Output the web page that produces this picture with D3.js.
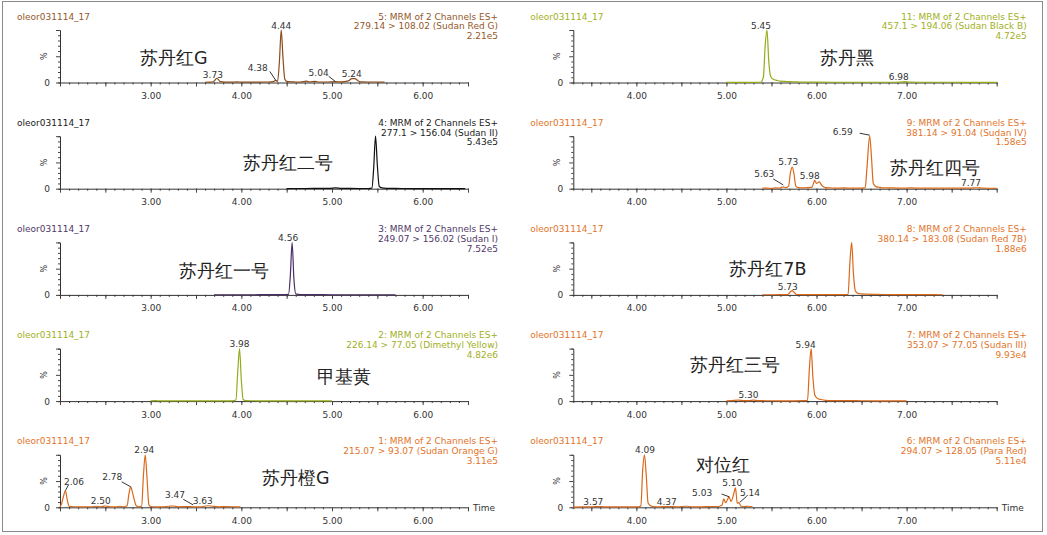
<!DOCTYPE html>
<html>
<head>
<meta charset="utf-8">
<script src="https://cdn.jsdelivr.net/npm/d3@7"></script>
<style>
body { margin: 0; background: #fff; }
svg { display: block; }
text { font-family: "DejaVu Sans", Verdana, sans-serif; }
</style>
</head>
<body>
<svg id="chart"></svg>
<script>
// Chromatogram traces: [time (min), intensity %]
var sudanRedG = [[3.60,0.5],[3.65,0.6],[3.69,1.5],[3.73,8],[3.77,1.5],[3.82,0.8],[3.90,0.7],[3.95,1.2],[4.00,0.8],[4.10,0.7],[4.20,0.9],[4.30,1.0],[4.35,1.5],[4.38,4],[4.40,2],[4.42,40],[4.44,100],[4.46,45],[4.48,6],[4.50,2],[4.55,1.2],[4.60,1.0],[4.65,0.8],[4.72,2.5],[4.75,1],[4.82,2],[4.85,1],[4.95,1],[5.04,1.5],[5.10,1.2],[5.18,3],[5.22,7.5],[5.25,7.5],[5.29,3],[5.33,1.2],[5.40,1],[5.50,1],[5.58,0.8]];
var sudanBlackB = [[5.00,0.3],[5.10,0.3],[5.20,0.4],[5.30,0.4],[5.38,0.5],[5.41,10],[5.43,70],[5.45,100],[5.47,40],[5.49,12],[5.52,6],[5.56,4],[5.60,2.5],[5.65,2],[5.70,1.5],[5.80,1],[5.90,0.8],[6.00,0.6],[6.20,0.5],[6.40,0.5],[6.60,0.5],[6.80,0.5],[6.93,0.6],[6.98,1.5],[7.03,0.6],[7.20,0.5],[7.40,0.5],[7.60,0.4],[7.80,0.4],[8.00,0.3]];
var sudanII = [[4.50,0.3],[4.60,0.4],[4.70,0.4],[4.80,0.5],[4.90,0.6],[4.98,0.8],[5.04,1.5],[5.10,0.7],[5.20,0.5],[5.30,0.4],[5.40,0.4],[5.44,1],[5.46,40],[5.48,100],[5.50,45],[5.52,5],[5.55,1.5],[5.60,0.8],[5.70,0.5],[5.80,0.4],[6.00,0.3],[6.20,0.3],[6.47,0.3]];
var sudanIV = [[5.40,1],[5.45,1],[5.50,0.8],[5.55,1.5],[5.58,1],[5.63,3.5],[5.66,2],[5.69,5],[5.71,30],[5.73,41],[5.75,28],[5.77,5],[5.80,2],[5.85,1.5],[5.90,2],[5.95,3],[5.98,16],[6.00,10],[6.03,13],[6.06,6],[6.10,2],[6.15,1.5],[6.20,1],[6.30,1.5],[6.40,1],[6.50,1.2],[6.54,2],[6.56,40],[6.59,100],[6.61,60],[6.63,10],[6.66,4],[6.70,2.5],[6.75,1.5],[6.85,1.5],[6.95,1],[7.05,1.5],[7.15,1],[7.30,1],[7.45,1.2],[7.60,1],[7.70,1],[7.77,1.8],[7.85,1],[8.00,0.8]];
var sudanI = [[3.70,0.3],[3.90,0.3],[4.10,0.3],[4.30,0.4],[4.45,0.4],[4.52,1],[4.54,35],[4.56,100],[4.58,30],[4.60,2],[4.65,0.5],[4.80,0.4],[5.00,0.3],[5.20,0.3],[5.40,0.3],[5.70,0.3]];
var sudanRed7B = [[5.40,0.3],[5.50,0.3],[5.60,0.4],[5.68,0.6],[5.71,6],[5.73,8],[5.75,5],[5.78,0.8],[5.85,0.5],[6.00,0.4],[6.15,0.4],[6.30,0.5],[6.35,0.8],[6.37,60],[6.39,100],[6.41,40],[6.43,8],[6.46,3],[6.50,2],[6.55,1.5],[6.65,1],[6.80,0.7],[7.00,0.5],[7.20,0.4],[7.40,0.3]];
var dimethylYellow = [[3.00,0.3],[3.05,1],[3.10,0.4],[3.30,0.3],[3.50,0.6],[3.60,0.3],[3.80,0.3],[3.90,0.4],[3.94,2],[3.96,55],[3.98,100],[4.00,40],[4.02,3],[4.05,0.8],[4.20,0.6],[4.40,0.5],[4.60,0.4],[4.80,0.4],[5.00,0.3]];
var sudanIII = [[5.00,0.5],[5.05,0.8],[5.13,1.8],[5.20,1],[5.25,1],[5.30,2],[5.35,1],[5.45,0.7],[5.60,0.6],[5.75,0.6],[5.85,0.8],[5.90,1.5],[5.92,60],[5.94,100],[5.96,45],[5.98,12],[6.01,5],[6.05,3],[6.10,1.5],[6.20,1],[6.35,0.8],[6.50,0.7],[6.70,0.6],[6.85,0.6],[7.00,0.5]];
var sudanOrangeG = [[2.00,0.5],[2.02,8],[2.04,22],[2.06,32],[2.08,14],[2.10,2],[2.15,1],[2.25,0.8],[2.35,1],[2.40,2],[2.45,1],[2.50,2.5],[2.55,1],[2.62,1],[2.66,2],[2.70,1],[2.74,3],[2.76,25],[2.78,39],[2.80,28],[2.82,14],[2.84,3],[2.87,1],[2.90,2],[2.92,60],[2.94,100],[2.96,55],[2.98,5],[3.00,1.5],[3.05,1],[3.12,1],[3.20,2],[3.25,2.5],[3.30,1],[3.40,1.5],[3.47,1],[3.55,1],[3.63,3],[3.68,2],[3.75,1],[3.85,1.2],[3.92,1],[3.99,0.8]];
var paraRed = [[3.30,0.5],[3.40,1],[3.50,0.8],[3.57,1.5],[3.65,0.8],[3.75,1],[3.85,0.7],[3.95,1],[4.02,0.8],[4.05,3],[4.07,70],[4.09,100],[4.11,60],[4.13,8],[4.15,4],[4.18,1.5],[4.25,1],[4.37,1.5],[4.45,1],[4.56,2],[4.62,1],[4.72,1],[4.82,1.5],[4.90,1.5],[4.95,4],[4.97,16],[4.99,9],[5.01,14],[5.03,20],[5.05,11],[5.08,25],[5.10,37],[5.12,8],[5.14,9],[5.16,2],[5.20,1.5],[5.24,2],[5.29,1]];

// Peak retention-time labels
var peaksRedG = [3.73, 4.38, 4.44, 5.04, 5.24];
var peaksBlackB = [5.45, 6.98];
var peaksII = [];
var peaksIV = [5.63, 5.73, 5.98, 6.59, 7.77];
var peaksI = [4.56];
var peaks7B = [5.73];
var peaksDimethyl = [3.98];
var peaksIII = [5.30, 5.94];
var peaksOrangeG = [2.06, 2.50, 2.78, 2.94, 3.47, 3.63];
var peaksParaRed = [3.57, 4.09, 4.37, 5.03, 5.10, 5.14];

// Header texts
var sampleName = "oleor031114_17";
var functionLines = ["5: MRM of 2 Channels ES+", "11: MRM of 2 Channels ES+", "4: MRM of 2 Channels ES+", "9: MRM of 2 Channels ES+", "3: MRM of 2 Channels ES+", "8: MRM of 2 Channels ES+", "2: MRM of 2 Channels ES+", "7: MRM of 2 Channels ES+", "1: MRM of 2 Channels ES+", "6: MRM of 2 Channels ES+"];
var transitions = ["279.14 > 108.02 (Sudan Red G)", "457.1 > 194.06 (Sudan Black B)", "277.1 > 156.04 (Sudan II)", "381.14 > 91.04 (Sudan IV)", "249.07 > 156.02 (Sudan I)", "380.14 > 183.08 (Sudan Red 7B)", "226.14 > 77.05 (Dimethyl Yellow)", "353.07 > 77.05 (Sudan III)", "215.07 > 93.07 (Sudan Orange G)", "294.07 > 128.05 (Para Red)"];
var maxIntensity = ["2.21e5", "4.72e5", "5.43e5", "1.58e5", "7.52e5", "1.88e6", "4.82e6", "9.93e4", "3.11e5", "5.11e4"];
var chineseNames = ["苏丹红G", "苏丹黑", "苏丹红二号", "苏丹红四号", "苏丹红一号", "苏丹红7B", "甲基黄", "苏丹红三号", "苏丹橙G", "对位红"];
var traces = [sudanRedG, sudanBlackB, sudanII, sudanIV, sudanI, sudanRed7B, dimethylYellow, sudanIII, sudanOrangeG, paraRed];
var peakLists = [peaksRedG, peaksBlackB, peaksII, peaksIV, peaksI, peaks7B, peaksDimethyl, peaksIII, peaksOrangeG, peaksParaRed];

// Styling / layout
var colors = ["#94582a", "#9fb024", "#1a1a1a", "#e2742a", "#4f3868", "#e2742a", "#9fb024", "#e2742a", "#e2742a", "#e2742a"];
var lineColors = ["#8a4c1a", "#98aa18", "#111111", "#d9681a", "#4a2c66", "#d9681a", "#98aa18", "#d9681a", "#d9681a", "#d9681a"];
// chinese name offset from (axis start, baseline)
var nameOffsets = [[80, -19], [247, -19], [183, -20], [317, -15], [119, -18], [156, -20], [257, -18], [117, -30], [202, -23], [123, -36]];
// label offsets from peak point: [dx, dy, leader x1, leader y1, leader x2, leader y2]
var labelOffsets = {
  "0:3.73": [-4, 0], "0:4.38": [-18, -9, -6, -9, 0, 0], "0:4.44": [0, -1], "0:5.04": [-17, -6, -7, -5.5, 0, 0], "0:5.24": [-2, -2],
  "1:5.45": [-6, -1], "1:6.98": [-6, -1.5],
  "3:5.63": [-19, -10, -10, -8, 0, -2], "3:5.73": [-4, -2], "3:5.98": [-5, -1.6], "3:6.59": [-27, -1, -10, -3, 0, -1], "3:7.77": [-5, -2],
  "4:4.56": [-4, -1], "5:5.73": [-4.5, -1], "6:3.98": [0, -2],
  "7:5.30": [-5, -2.5], "7:5.94": [-5.5, -1],
  "8:2.06": [8.6, -5.5, 3, -5.5, 0, 0], "8:2.50": [-4.6, -2], "8:2.78": [-18.4, -6.8, -9, -5, 0, 0], "8:2.94": [-1, -1.5], "8:3.47": [-18.3, -9.2, -10, -7.5, 0, -1.8], "8:3.63": [-5, -1.4],
  "9:3.57": [-4.3, -1.6], "9:4.09": [0.5, -2], "9:4.37": [-3, -1.6], "9:5.03": [-27, -0.5, -7.5, -2.8, 0, 0], "9:5.10": [-3.2, -1.6], "9:5.14": [11, -6.3, 7.6, -6.3, 1, -0.5]
};

var width = 1047, height = 535;
var rowStep = 106.2;
var baseOffset = 82.5;
var plotH = 52.5;
var cjkFont = '"Noto Sans CJK SC", "Noto Sans CJK JP", "Noto Sans CJK TC", sans-serif';

var svg = d3.select("#chart").attr("width", width).attr("height", height);

// outer frame
svg.append("rect")
  .attr("x", 2.5).attr("y", 1.5)
  .attr("width", 1040).attr("height", 530)
  .attr("fill", "none").attr("stroke", "#8a8a8a");

var xLeft = d3.scaleLinear().domain([2.0, 6.5]).range([60, 468]);
var xRight = d3.scaleLinear().domain([3.3, 8.0]).range([573.3, 996.7]);
var minorLeft = d3.range(20, 66).map(d => d / 10);
var minorRight = d3.range(33, 81).map(d => d / 10);
var labelsLeft = [3, 4, 5, 6];
var labelsRight = [4, 5, 6, 7];

traces.forEach(function(data, i) {
  var col = i % 2, row = Math.floor(i / 2);
  var x = col === 0 ? xLeft : xRight;
  var minor = col === 0 ? minorLeft : minorRight;
  var ints = col === 0 ? labelsLeft : labelsRight;
  var top = row * rowStep;
  var base = top + baseOffset;
  var y = d3.scaleLinear().domain([0, 100]).range([base, base - plotH]);
  var x0 = x.range()[0], x1 = x.range()[1];
  var g = svg.append("g");
  var color = colors[i];

  // headers
  g.append("text").attr("x", x0 - 43).attr("y", top + 19.5)
    .attr("font-size", 9).attr("fill", color).text(sampleName);
  var hdr = [functionLines[i], transitions[i], maxIntensity[i]];
  hdr.forEach(function(t, k) {
    g.append("text").attr("x", x1 + 30).attr("y", top + 19.5 + k * 9.8)
      .attr("text-anchor", "end").attr("font-size", 9).attr("fill", color).text(t);
  });

  // x axis: minor and major ticks
  g.append("g").attr("transform", "translate(0," + base + ")")
    .call(d3.axisBottom(x).tickValues(minor).tickSize(2).tickFormat("").tickSizeOuter(0))
    .call(a => a.select(".domain").remove())
    .selectAll("line").attr("stroke", "#444");
  var halfs = minor.filter(d => Math.abs(d * 2 - Math.round(d * 2)) < 1e-6);
  var xa = g.append("g").attr("transform", "translate(0," + base + ")")
    .call(d3.axisBottom(x).tickValues(halfs).tickSize(4).tickSizeOuter(0)
      .tickFormat(d => ints.some(v => Math.abs(v - d) < 1e-6) ? d3.format(".2f")(d) : ""));
  xa.select(".domain").attr("stroke", "#333");
  xa.selectAll("line").attr("stroke", "#444");
  xa.selectAll("text").attr("font-size", 9).attr("fill", "#333")
    .attr("font-family", '"DejaVu Sans", Verdana, sans-serif').attr("dy", "1.05em");

  // y axis
  var ya = g.append("g").attr("transform", "translate(" + x0 + ",0)")
    .call(d3.axisLeft(y).tickValues(d3.range(0, 101, 10)).tickFormat("").tickSizeOuter(0)
      .tickSize(2));
  ya.selectAll(".tick line").attr("x2", d => (d % 50 === 0 ? -4 : -2)).attr("stroke", "#444");
  ya.select(".domain").attr("stroke", "#333");
  g.append("text").attr("x", x0 - 10).attr("y", base + 3.5).attr("text-anchor", "end")
    .attr("font-size", 9).attr("fill", "#333").text("0");
  g.append("text").attr("transform", "translate(" + (x0 - 13) + "," + y(50) + ") rotate(-90)")
    .attr("text-anchor", "middle").attr("font-size", 8).attr("fill", "#333").text("%");
  if (row === 4) {
    g.append("text").attr("x", x1 + 5).attr("y", base + 3.5)
      .attr("font-size", 9).attr("fill", "#333").text("Time");
  }

  // trace
  var line = d3.line().x(d => x(d[0])).y(d => y(d[1])).curve(d3.curveMonotoneX);
  g.append("path").attr("d", line(data))
    .attr("fill", "none").attr("stroke", lineColors[i]).attr("stroke-width", 1.2);

  // peak labels
  peakLists[i].forEach(function(t) {
    var nearest = d3.least(data, d => Math.abs(d[0] - t));
    var px = x(t), py = y(nearest[1]);
    var off = labelOffsets[i + ":" + t.toFixed(2)] || [0, -2];
    g.append("text").attr("x", px + off[0]).attr("y", py + off[1])
      .attr("text-anchor", "middle").attr("font-size", 9).attr("fill", "#333")
      .text(t.toFixed(2));
    if (off.length > 2) {
      g.append("line")
        .attr("x1", px + off[2]).attr("y1", py + off[3])
        .attr("x2", px + off[4]).attr("y2", py + off[5])
        .attr("stroke", "#333").attr("stroke-width", 1);
    }
  });

  // chinese compound name
  g.append("text").attr("x", x0 + nameOffsets[i][0]).attr("y", base + nameOffsets[i][1])
    .attr("font-family", cjkFont).attr("font-size", 17.5)
    .attr("fill", "#222").text(chineseNames[i]);
});
</script>
</body>
</html>
